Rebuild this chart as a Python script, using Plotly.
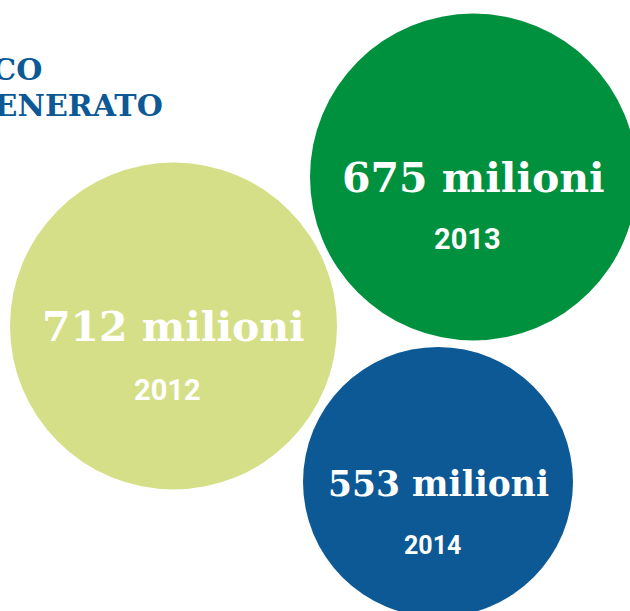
import plotly.graph_objects as go

years = ["2012", "2013", "2014"]
values = [712, 675, 553]  # milioni di euro
colors = ["#d5df88", "#00913f", "#0c5996"]

# bubble layout in pixel coordinates (x, y from top-left)
cx = [173.5, 473.5, 438]
cy = [326, 177, 482]
diam = [327, 327, 270]

title_lines = ["VALORE ECONOMICO", "GENERATO"]

W, H = 630, 611

fig = go.Figure()

fig.add_trace(go.Scatter(
    x=cx, y=cy, mode="markers",
    marker=dict(size=diam, color=colors, opacity=1, line=dict(width=0)),
    hoverinfo="skip", showlegend=False,
))

val_size = [41, 41, 34.5]
year_size = [29, 29, 25]
val_dy = [1, 1, 2]
year_dy = [64, 62, 63]
for i in range(len(years)):
    fig.add_annotation(
        x=cx[i], y=cy[i] + val_dy[i], xref="x", yref="y",
        text=f"<b>{values[i]} milioni</b>", showarrow=False,
        font=dict(family="DejaVu Serif", size=val_size[i], color="white"),
        xanchor="center", yanchor="middle",
    )
    fig.add_annotation(
        x=cx[i], y=cy[i] + year_dy[i], xref="x", yref="y", xshift=-6,
        text=f"<b>{years[i]}</b>", showarrow=False,
        font=dict(family="Roboto", size=year_size[i], color="white"),
        xanchor="center", yanchor="middle",
    )

# title, cropped at the left edge as in the original page
fig.add_annotation(x=44, y=69, xref="x", yref="y", text=f"<b>{title_lines[0]}</b>",
                   showarrow=False, xanchor="right", yanchor="middle",
                   font=dict(family="DejaVu Serif", size=30, color="#0c5996"))
fig.add_annotation(x=165, y=105, xref="x", yref="y", text=f"<b>{title_lines[1]}</b>",
                   showarrow=False, xanchor="right", yanchor="middle",
                   font=dict(family="DejaVu Serif", size=30, color="#0c5996"))

fig.update_xaxes(range=[0, W], visible=False, fixedrange=True)
fig.update_yaxes(range=[H, 0], visible=False, fixedrange=True)
fig.update_layout(
    width=W, height=H,
    margin=dict(l=0, r=0, t=0, b=0),
    paper_bgcolor="white", plot_bgcolor="white",
)

fig.write_html("out.html", config={"displayModeBar": False},
               post_script="document.body.style.margin='0px';")
